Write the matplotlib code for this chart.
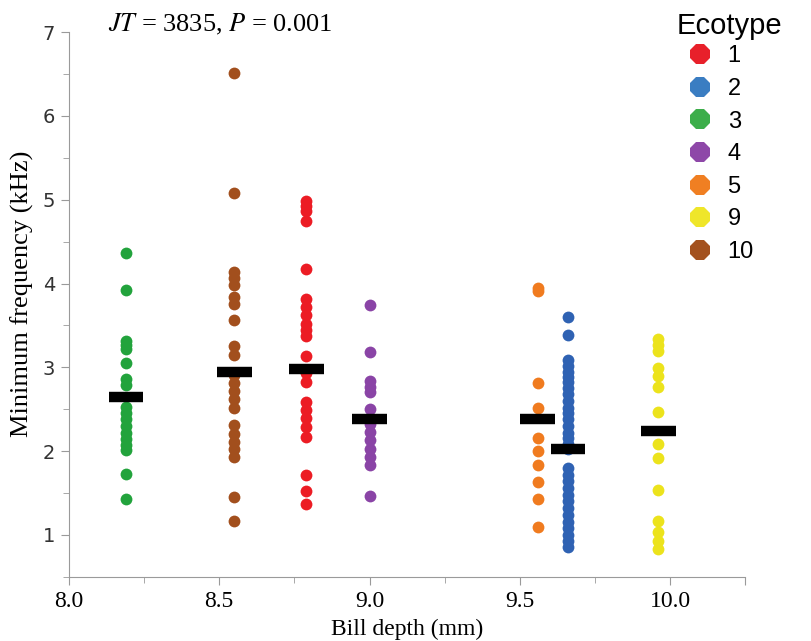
import matplotlib
matplotlib.use("Agg")
import matplotlib.pyplot as plt
from matplotlib.lines import Line2D
from matplotlib.ticker import MultipleLocator

# ecotype groups, in legend order
ecotypes = ["1", "2", "3", "4", "5", "9", "10"]
colors = ["#ec1c24", "#2f62b3", "#22a33c", "#8a44a6", "#f07b1f", "#ece31c", "#a24f1d"]
legend_colors = ["#e8202a", "#3a7dc2", "#3cae4a", "#8e48a8", "#f07f22", "#efe62a", "#a4521f"]

# mean bill depth (mm) of each ecotype
bill_depth = [8.79, 9.66, 8.19, 9.0, 9.56, 9.96, 8.55]

# minimum frequency (kHz) of individual songs
freq_1 = [4.99, 4.93, 4.86, 4.75, 4.17, 3.81, 3.72, 3.62, 3.52, 3.44, 3.37, 3.13,
          2.93, 2.83, 2.59, 2.49, 2.39, 2.29, 2.17, 1.71, 1.52, 1.37]
freq_2 = [3.60, 3.38, 3.09, 3.02, 2.95, 2.88, 2.82, 2.75, 2.68, 2.60, 2.52, 2.45,
          2.38, 2.30, 2.22, 2.16, 2.09, 2.02, 1.80, 1.72, 1.64, 1.56, 1.48, 1.40,
          1.32, 1.24, 1.15, 1.08, 1.00, 0.93, 0.86]
freq_3 = [4.36, 3.92, 3.31, 3.27, 3.22, 3.05, 2.86, 2.79, 2.53, 2.46, 2.38, 2.30,
          2.22, 2.14, 2.07, 2.01, 1.73, 1.43]
freq_4 = [3.74, 3.18, 2.84, 2.77, 2.71, 2.50, 2.33, 2.23, 2.13, 2.03, 1.93, 1.83, 1.47]
freq_5 = [3.95, 3.91, 2.81, 2.52, 2.16, 2.00, 1.83, 1.63, 1.43, 1.09]
freq_9 = [3.34, 3.27, 3.19, 2.99, 2.90, 2.76, 2.47, 2.09, 1.92, 1.54, 1.17, 1.03, 0.93, 0.83]
freq_10 = [6.51, 5.08, 4.14, 4.06, 3.98, 3.84, 3.75, 3.56, 3.25, 3.15, 2.91, 2.81,
           2.72, 2.62, 2.52, 2.31, 2.21, 2.11, 2.02, 1.93, 1.45, 1.17]
freqs = [freq_1, freq_2, freq_3, freq_4, freq_5, freq_9, freq_10]

# group means (black bars)
means = [2.98, 2.02, 2.65, 2.38, 2.38, 2.24, 2.95]

serif = "Liberation Serif"
grey = "#9a9a9a"

fig = plt.figure(figsize=(8.11, 6.41), dpi=100)
ax = fig.add_axes([0.085, 0.1, 0.834, 0.85])

for x, f, c in zip(bill_depth, freqs, colors):
    ax.plot([x] * len(f), f, "o", color=c, markersize=8.5, markeredgewidth=0, zorder=2)

ax.hlines(means, [x - 0.058 for x in bill_depth], [x + 0.058 for x in bill_depth],
          color="black", linewidth=7.5, zorder=3)

ax.set_xlim(8.0, 10.25)
ax.set_ylim(0.5, 7)
ax.xaxis.set_minor_locator(MultipleLocator(0.25))
ax.yaxis.set_minor_locator(MultipleLocator(0.5))
ax.set_xticks([8.0, 8.5, 9.0, 9.5, 10.0, 10.25])
ax.set_xticklabels(["8.0", "8.5", "9.0", "9.5", "10.0", ""])
ax.set_yticks([1, 2, 3, 4, 5, 6, 7])

for s in ["top", "right"]:
    ax.spines[s].set_visible(False)
for s in ["left", "bottom"]:
    ax.spines[s].set_color(grey)
ax.tick_params(which="both", color=grey, direction="out")
ax.tick_params(which="major", length=6)
ax.tick_params(which="minor", length=4)
ax.tick_params(axis="x", labelsize=17, pad=4)
ax.tick_params(axis="y", labelsize=14, labelcolor="#333333", pad=4)
for lab in ax.get_xticklabels():
    lab.set_family(serif)
for lab in ax.get_yticklabels():
    lab.set_family("DejaVu Sans")

ax.set_xlabel("Bill depth (mm)", family=serif, fontsize=17, labelpad=5)
ax.set_ylabel("Minimum frequency (kHz)", family=serif, fontsize=19)
ax.yaxis.set_label_coords(-0.052, 0.52)

plt.rcParams["mathtext.fontset"] = "stix"
fig.text(0.133, 0.962, r"$JT$ = 3835, $P$ = 0.001", family=serif, fontsize=19,
         va="center", ha="left")

handles = [Line2D([], [], marker="8", linestyle="", color=c, markersize=15,
                  markeredgewidth=0) for c in legend_colors]
leg = fig.legend(handles, ecotypes, title="Ecotype", loc="upper left",
                 bbox_to_anchor=(0.82, 1.0), frameon=False,
                 title_fontsize=21, alignment="left", handletextpad=0.15,
                 labelspacing=0.45, borderaxespad=0.1,
                 prop={"family": "Liberation Sans", "size": 17})
leg.get_title().set_family("Liberation Sans")
leg._legend_box.sep = 4

fig.savefig("out.png", dpi=100)
